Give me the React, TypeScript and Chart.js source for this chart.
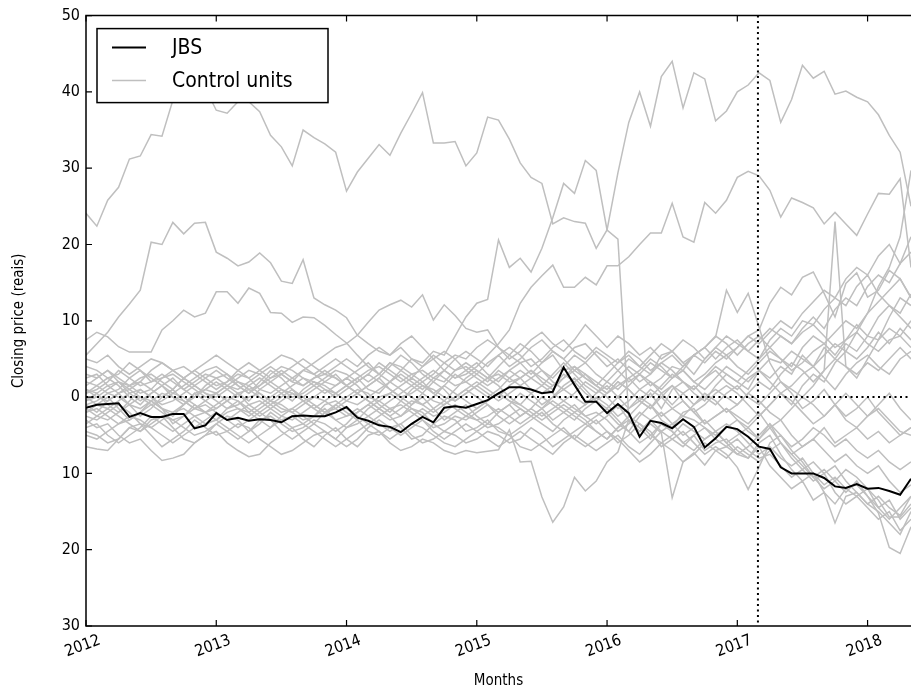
import React, { useEffect, useRef } from "react";
import { Chart, registerables } from "chart.js";

Chart.register(...registerables);

const FONT = "'DejaVu Sans Condensed', 'DejaVu Sans', sans-serif";

const START_YEAR = 2012;
const N_MONTHS = 77;
const YEAR_TICKS = [2012, 2013, 2014, 2015, 2016, 2017, 2018];
const Y_TICKS = [-30, -20, -10, 0, 10, 20, 30, 40, 50];
const INTERVENTION_MONTH = 61.9;
const SERIES_NAMES = ["JBS", "Control units"];

const JBS = [
  -1.4, -1.0, -0.9, -0.8, -2.6, -2.1, -2.6, -2.6, -2.2, -2.2, -4.1, -3.7,
  -2.1, -3.0, -2.7, -3.1, -2.9, -3.0, -3.3, -2.5, -2.4, -2.5, -2.5, -2.0,
  -1.3, -2.7, -3.1, -3.7, -3.9, -4.6, -3.5, -2.6, -3.3, -1.4, -1.2, -1.4,
  -0.9, -0.4, 0.5, 1.3, 1.3, 1.0, 0.5, 0.7, 3.9, 1.6, -0.6, -0.6,
  -2.1, -0.9, -2.1, -5.2, -3.1, -3.4, -4.1, -2.9, -3.9, -6.6, -5.4, -3.9,
  -4.2, -5.2, -6.5, -6.8, -9.2, -10.0, -10.0, -10.0, -10.6, -11.7, -11.9, -11.4,
  -12.0, -11.9, -12.3, -12.8, -10.7,
];

const CONTROL_A = [
  24.1, 22.4, 25.8, 27.5, 31.2, 31.6, 34.4, 34.2, 38.9, 41.5, 42.5, 40.5,
  37.6, 37.2, 38.7, 38.7, 37.4, 34.3, 32.8, 30.3, 35.0, 34.0, 33.2, 32.1,
  27.0, 29.5, 31.3, 33.1, 31.7, 34.6, 37.2, 39.9, 33.3, 33.3, 33.5, 30.3,
  32.0, 36.7, 36.3, 33.8, 30.7, 28.8, 28.0, 22.7, 23.5, 23.0, 22.8, 19.5,
  21.9, 29.4, 36.0, 40.0, 35.5, 42.0, 44.0, 37.9, 42.5, 41.7, 36.2, 37.5,
  40.0, 40.9, 42.5, 41.5, 36.0, 39.0, 43.5, 41.8, 42.7, 39.7, 40.1, 39.3,
  38.7, 37.0, 34.3, 32.1, 25.0,
];
const CONTROL_B = [
  1.0, 0.5, 1.5, 2.0, 0.5, -0.5, 0.5, 1.5, 0.0, -1.0, 0.5, 1.0,
  2.0, 1.0, 0.0, 1.5, 2.5, 1.5, 0.5, -0.5, 1.0, 2.0, 1.5, 0.5,
  1.5, 2.5, 1.0, 0.5, 2.0, 3.0, 2.0, 1.0, 2.5, 3.5, 2.5, 3.0,
  4.0, 5.5, 7.0, 8.8, 12.3, 14.4, 15.9, 17.3, 14.4, 14.4, 15.7, 14.7,
  17.2, 17.2, 18.4, 20.0, 21.5, 21.5, 25.4, 21.0, 20.3, 25.5, 24.1, 25.8,
  28.8, 29.6, 29.0, 27.1, 23.6, 26.1, 25.5, 24.8, 22.7, 24.2, 22.7, 21.2,
  24.0, 26.7, 26.6, 28.6, 17.0,
];
const CONTROL_C = [
  3.0, 2.5, 3.5, 2.0, 1.5, 2.5, 3.0, 2.0, 1.0, 2.5, 3.5, 2.5,
  1.5, 2.0, 3.0, 2.5, 1.0, 0.5, 1.5, 2.5, 3.5, 3.0, 2.0, 1.5,
  2.5, 3.5, 4.5, 3.0, 2.0, 3.5, 5.0, 4.5, 6.0, 5.5, 8.0, 10.5,
  12.3, 12.8, 20.6, 17.0, 18.2, 16.4, 19.5, 23.5, 28.0, 26.7, 31.0, 29.7,
  21.9, 20.7, -2.5, -1.0, 0.5, -1.5, 1.0, 2.0, 0.5, -0.5, 1.5, 3.0,
  2.0, 1.0, 3.5, 2.5, 4.0, 3.0, 5.5, 4.0, 6.5, 5.0, 7.0, 6.0,
  8.0, 7.5, 9.0, 8.0, 10.0,
];
const CONTROL_D = [
  5.5, 7.0, 8.5, 10.5, 12.2, 14.0, 20.3, 20.0, 22.9, 21.4, 22.8, 22.9,
  19.0, 18.2, 17.2, 17.7, 18.9, 17.6, 15.2, 14.9, 18.0, 13.0, 12.1, 11.4,
  10.4, 8.1, 7.0, 6.0, 5.5, 6.5, 5.0, 4.0, 5.5, 4.5, 3.5, 4.0,
  3.0, 2.0, 3.5, 2.5, 1.5, 2.5, 3.5, 2.0, 1.0, 2.0, 3.0, 1.5,
  0.5, 1.5, 2.5, 1.0, 0.0, 1.5, 3.0, 2.0, 1.0, 2.5, 3.5, 2.0,
  1.0, 2.5, 3.5, 2.0, 0.5, 1.5, 3.0, 4.0, 2.5, 1.0, 3.0, 4.5,
  5.5, 4.0, 3.0, 5.0, 6.0,
];
const CONTROL_E = [
  7.5, 8.5, 7.9, 6.6, 5.9, 5.9, 5.9, 8.8, 10.0, 11.4, 10.5, 11.0,
  13.8, 13.8, 12.3, 14.3, 13.6, 11.1, 11.0, 9.8, 10.5, 10.4, 9.4, 8.2,
  7.1, 5.5, 4.0, 3.0, 4.5, 3.5, 2.5, 4.0, 5.0, 3.5, 2.5, 3.5,
  4.5, 3.0, 2.0, 3.5, 4.5, 5.0, 3.5, 2.5, 4.0, 5.5, 4.5, 3.0,
  2.0, 1.0, 2.5, 3.5, 5.0, 4.0, 2.5, 3.5, 5.5, 4.5, 6.0, 5.0,
  6.5, 8.0, 8.8, 12.3, 14.4, 13.4, 15.7, 16.4, 13.6, 10.5, 14.9, 16.3,
  13.1, 14.0, 16.6, 15.5, 13.1,
];
const CONTROL_F = [
  -1.0, -2.0, -0.5, 0.5, -1.0, -2.5, -1.5, 0.0, 1.0, -0.5, -1.5, -0.5,
  0.5, 1.5, 0.5, -0.5, 1.0, 2.0, 3.0, 2.0, 3.5, 4.5, 5.5, 6.5,
  7.0, 8.1, 9.8, 11.4, 12.1, 12.7, 11.8, 13.4, 10.1, 12.1, 10.7, 9.0,
  8.5, 8.8, 6.5, 5.5, 7.0, 6.0, 4.5, 5.5, 3.5, 4.0, 2.5, 1.5,
  0.5, 2.0, 1.0, -0.5, -1.5, 0.5, 1.5, -0.5, -2.0, -1.0, 0.5, 1.5,
  0.5, -1.0, -2.5, -1.0, 0.5, -0.5, -2.0, -3.5, -2.5, -1.0, -3.0, -4.0,
  -2.5, -1.5, -3.0, -4.5, -5.0,
];
const CONTROL_G = [
  -3.0, -4.0, -3.5, -5.0, -6.0, -5.5, -7.0, -8.3, -8.0, -7.5, -6.0, -5.0,
  -4.5, -6.0, -7.0, -7.8, -7.5, -6.0, -5.0, -4.0, -5.5, -6.5, -5.0, -4.0,
  -5.5, -6.5, -5.0, -4.5, -6.0, -7.0, -6.5, -5.5, -6.0, -7.0, -7.5, -7.0,
  -7.3, -7.1, -6.9, -4.3, -8.5, -8.4, -13.1, -16.4, -14.4, -10.5, -12.3, -11.0,
  -8.5, -7.2, -3.0, -4.0, -5.5, -3.5, -4.5, -6.0, -5.0, -7.0, -6.0, -5.5,
  -7.0, -8.0, -6.5, -9.0, -10.5, -12.0, -11.0, -13.5, -12.5, -16.5, -13.0, -12.5,
  -14.0, -13.0, -14.5, -15.5, -13.0,
];
const CONTROL_H = [
  -4.5, -5.0, -6.0, -5.5, -4.0, -3.5, -5.0, -6.5, -5.5, -4.5, -3.0, -4.0,
  -5.0, -4.5, -3.5, -4.0, -5.5, -6.5, -7.5, -7.0, -6.0, -5.0, -4.5, -5.5,
  -4.0, -3.0, -4.5, -5.0, -4.0, -3.5, -5.0, -6.0, -5.5, -4.5, -5.0, -6.0,
  -5.5, -4.5, -5.0, -6.0, -5.5, -4.0, -5.0, -6.5, -5.5, -4.5, -3.5, -4.5,
  -5.5, -4.0, -3.0, -4.5, -3.5, -4.7, -13.2, -8.5, -7.3, -8.9, -7.0, -6.5,
  -7.5, -8.0, -6.0, -5.0, -7.5, -9.5, -11.0, -10.0, -12.5, -14.0, -12.0, -11.5,
  -13.0, -15.2, -19.7, -20.5, -17.0,
];
const CONTROL_I = [
  -6.5, -6.8, -7.0, -5.5, -4.0, -4.5, -3.0, -2.5, -4.0, -5.5, -6.0, -5.0,
  -3.5, -2.5, -3.0, -4.5, -3.5, -2.0, -3.0, -4.0, -3.5, -2.5, -1.5, -3.0,
  -4.0, -3.5, -2.5, -1.5, -2.5, -4.0, -5.5, -5.0, -3.5, -2.5, -3.0, -4.5,
  -4.0, -3.0, -4.5, -5.0, -4.0, -3.0, -2.0, -3.5, -4.5, -5.5, -4.0, -3.0,
  -4.5, -6.0, -5.0, -3.5, -4.5, -6.5, -5.5, -4.5, -6.0, -7.5, -6.5, -7.5,
  -9.2, -12.1, -9.2, -6.0, -5.0, -7.0, -8.5, -10.5, -12.0, -11.0, -9.5, -10.5,
  -12.0, -13.5, -15.7, -15.7, -14.0,
];
const CONTROL_J = [
  0.5, 1.5, 2.5, 1.5, 0.0, -1.0, 0.5, 1.5, 2.5, 1.0, 0.0, 1.5,
  2.5, 3.0, 1.5, 0.5, 2.0, 3.5, 2.5, 1.0, 0.0, 1.0, 2.0, 3.0,
  1.5, 0.5, 1.5, 2.5, 1.0, 0.0, -1.0, 0.5, 2.0, 1.0, -0.5, 0.5,
  1.5, 2.5, 1.5, 0.0, -1.0, 0.5, 1.5, 0.5, -0.5, 0.5, 2.0, 1.0,
  0.0, -1.5, -0.5, 1.0, 2.0, 0.5, -1.0, 0.5, 1.5, 0.0, -1.0, 0.5,
  1.5, 0.0, -1.0, 0.5, 2.0, 1.0, 0.0, 1.5, 3.5, 23.0, 4.0, 2.5,
  5.0, 7.5, 10.5, 13.0, 12.0,
];
const CONTROL_K = [
  -0.5, 0.5, -1.0, -2.0, -0.5, 1.0, 0.0, -1.5, -2.5, -1.0, 0.5, -0.5,
  -1.5, -0.5, 0.5, -1.0, -2.0, -1.0, 0.0, 1.0, -0.5, -1.5, -2.5, -1.0,
  0.0, 1.0, 0.5, -1.0, -2.0, -0.5, 1.0, 2.0, 0.5, -0.5, 1.0, 2.5,
  3.5, 2.5, 4.0, 5.5, 4.5, 3.0, 4.5, 6.0, 5.0, 3.5, 4.5, 6.0,
  5.0, 3.5, 2.0, 3.0, 4.5, 3.5, 2.5, 4.0, 5.5, 6.5, 7.9, 14.0,
  11.1, 13.6, 9.2, 4.5, 2.0, 0.5, -1.5, -0.5, 1.0, -1.0, -2.5, -1.5,
  0.0, -2.0, -3.5, -5.0, -4.0,
];
const CONTROL_L = [
  -2.0, -1.0, 0.0, -1.5, -3.0, -2.0, -0.5, -1.5, -3.5, -2.5, -1.0, -2.0,
  -3.0, -1.5, -0.5, -2.0, -3.0, -4.0, -2.5, -1.5, -2.5, -3.5, -2.0, -1.0,
  -2.0, -3.0, -1.5, -0.5, -1.5, -2.5, -1.0, 0.0, -1.5, -3.0, -2.0, -1.0,
  -2.5, -3.5, -2.0, -1.0, -2.5, -1.5, 0.0, -1.0, -2.0, -3.0, -1.5, -0.5,
  -2.0, -3.5, -4.5, -2.5, -1.0, -3.0, -4.0, -2.0, -1.5, -3.5, -2.5, -1.5,
  -3.0, -4.0, -2.5, -1.0, 0.5, -1.0, 1.5, 3.0, 2.0, 4.5, 6.0, 8.5,
  11.0, 14.5, 17.0, 21.0, 29.7,
];
const CONTROL_M = [
  4.0, 3.5, 2.5, 3.0, 4.5, 3.5, 2.0, 2.5, 3.5, 4.0, 3.0, 2.0,
  1.0, 2.0, 3.5, 4.5, 3.5, 2.5, 3.0, 4.0, 5.0, 4.0, 3.0, 2.5,
  1.5, 0.5, 1.5, 2.5, 4.0, 5.5, 4.5, 3.0, 2.0, 3.5, 5.0, 6.0,
  5.0, 4.0, 5.5, 6.5, 5.5, 4.0, 5.0, 6.5, 7.5, 6.0, 5.0, 6.5,
  5.5, 4.5, 6.0, 5.0, 3.5, 4.5, 5.5, 4.0, 5.5, 6.5, 5.0, 6.5,
  7.5, 6.0, 5.0, 6.5, 8.0, 7.0, 9.0, 10.5, 9.0, 11.5, 13.0, 12.0,
  14.5, 16.0, 15.0, 17.5, 19.0,
];
const CONTROL_N = [
  -2.5, -3.0, -2.0, -1.0, -2.0, -3.5, -4.0, -3.0, -2.0, -1.5, -2.5, -3.5,
  -3.0, -2.0, -1.5, -2.5, -1.5, -0.5, -1.0, -2.0, -3.0, -2.5, -1.0, -0.5,
  -1.5, -2.5, -3.5, -2.5, -1.5, -1.0, -2.0, -3.0, -4.0, -3.5, -2.5, -3.0,
  -2.0, -1.0, -2.5, -3.5, -2.5, -1.5, -2.5, -1.5, -0.5, -1.5, -2.5, -2.0,
  -3.0, -4.5, -3.5, -2.0, -3.0, -4.5, -3.5, -2.5, -3.0, -4.0, -5.0, -4.0,
  -3.0, -4.5, -5.5, -4.0, -6.0, -7.5, -6.5, -5.5, -7.0, -8.5, -7.5, -9.0,
  -10.0, -9.0, -11.0, -12.5, -11.5,
];
const CONTROL_O = [
  1.5, 2.5, 3.5, 2.5, 1.5, 0.5, 1.0, 2.5, 3.0, 2.0, 1.0, 0.0,
  0.5, 1.5, 2.5, 3.5, 3.0, 2.0, 1.0, 0.0, 0.5, 1.5, 2.5, 3.5,
  3.0, 2.0, 3.0, 4.5, 3.5, 2.5, 1.5, 2.5, 3.5, 2.5, 1.5, 2.0,
  3.0, 4.5, 5.5, 4.0, 5.0, 6.5, 7.5, 6.0, 5.0, 6.5, 7.0, 5.5,
  4.0, 5.0, 3.5, 2.0, 3.0, 4.5, 3.5, 2.0, 1.0, 2.5, 4.0, 3.0,
  2.0, 3.5, 5.0, 7.5, 9.0, 8.0, 10.0, 9.5, 11.5, 13.0, 12.0, 14.5,
  16.0, 13.5, 12.0, 10.5, 9.0,
];
const CONTROL_P = [
  -1.0, -0.5, 0.5, 0.0, -1.0, -1.5, -0.5, 0.5, 0.0, -0.5, -1.5, -2.0,
  -1.0, 0.0, -0.5, -1.5, -2.5, -1.5, -0.5, 0.5, 0.0, -1.0, -2.0, -1.5,
  -0.5, 0.5, -0.5, -1.5, -0.5, 0.5, 1.5, 0.5, -0.5, -1.0, 0.0, 1.0,
  0.0, -1.0, -2.0, -1.0, 0.5, -0.5, -1.5, -3.0, -2.0, -1.0, -2.5, -3.5,
  -2.5, -1.0, -3.0, -4.5, -3.0, -2.0, -3.5, -5.0, -4.0, -3.0, -4.5, -6.0,
  -5.0, -4.0, -5.5, -3.5, -6.0, -8.0, -9.5, -8.5, -10.0, -9.0, -11.0, -12.5,
  -14.0, -15.0, -16.5, -18.0, -15.0,
];
const CONTROL_Q = [
  2.0, 1.5, 0.5, 1.0, 2.5, 3.5, 2.5, 1.5, 0.5, 1.5, 2.5, 3.5,
  4.0, 3.0, 2.0, 1.0, 1.5, 3.0, 4.0, 3.5, 2.5, 1.5, 0.5, 1.5,
  2.5, 1.5, 0.0, -0.5, 0.5, 1.5, 2.5, 1.5, 0.5, 1.5, 3.0, 2.0,
  1.0, 0.0, 1.0, 2.5, 3.5, 2.5, 1.5, 3.0, 4.5, 3.0, 1.5, 0.5,
  2.0, 3.5, 5.0, 4.0, 3.0, 5.5, 6.0, 4.5, 3.0, 5.0, 6.5, 5.5,
  4.0, 3.0, 4.5, 6.0, 5.0, 4.0, 6.5, 8.0, 7.0, 5.5, 7.5, 9.5,
  8.0, 10.5, 12.0, 11.0, 13.5,
];
const CONTROL_R = [
  -3.5, -2.5, -1.5, -2.5, -3.5, -4.5, -3.5, -2.5, -3.0, -4.0, -5.0, -4.5,
  -3.5, -4.5, -5.5, -4.5, -3.0, -2.5, -3.5, -4.5, -4.0, -3.0, -3.5, -4.5,
  -3.5, -2.0, -1.0, -2.0, -3.0, -2.5, -1.5, -2.0, -3.5, -4.5, -3.5, -2.5,
  -3.0, -4.0, -3.5, -2.5, -1.5, -2.5, -3.5, -4.5, -3.0, -2.0, -3.0, -4.5,
  -5.5, -4.0, -2.5, -3.5, -5.0, -6.0, -5.0, -3.5, -4.5, -5.5, -4.5, -3.5,
  -4.5, -6.0, -7.5, -6.5, -8.0, -9.0, -8.0, -10.0, -11.5, -10.5, -12.0, -13.0,
  -12.0, -14.5, -13.5, -16.0, -14.5,
];
const CONTROL_S = [
  0.0, -1.0, -1.5, -0.5, 0.5, 1.0, 0.0, -1.0, -0.5, 0.5, 1.5, 0.5,
  -0.5, -1.5, -1.0, 0.0, 0.5, -0.5, -1.5, -2.0, -1.0, 0.0, 1.0, 0.5,
  -0.5, -1.0, 0.0, 1.0, 2.0, 1.0, 0.0, -1.0, 0.0, 1.5, 0.5, -0.5,
  -1.5, -0.5, 0.5, -0.5, -1.5, -2.5, -1.5, 0.0, 1.0, 0.0, -1.0, 0.5,
  1.5, 0.0, -1.5, -0.5, 1.0, 0.0, -1.5, -2.5, -1.0, 0.5, -0.5, -2.0,
  -1.0, 0.5, -0.5, -2.0, -3.0, -1.5, 0.0, -1.0, -2.5, -1.0, 0.5, -1.0,
  -2.5, -1.0, 0.5, -1.5, -3.0,
];
const CONTROL_T = [
  5.0, 4.5, 5.5, 4.0, 3.0, 4.0, 5.0, 4.5, 3.5, 2.5, 3.5, 4.5,
  5.5, 4.5, 3.5, 2.5, 3.5, 4.5, 5.5, 5.0, 4.0, 3.0, 4.0, 5.0,
  4.0, 3.0, 2.0, 3.0, 4.5, 4.0, 3.0, 2.0, 3.0, 4.5, 5.5, 5.0,
  6.5, 7.5, 6.5, 5.0, 6.0, 7.5, 8.5, 7.0, 6.0, 7.5, 9.5, 8.0,
  6.5, 8.0, 7.0, 5.5, 6.5, 5.0, 6.0, 7.5, 6.5, 5.0, 6.5, 8.0,
  7.0, 6.0, 7.5, 9.0, 8.0, 7.0, 8.5, 9.5, 8.0, 6.5, 7.5, 8.5,
  7.0, 6.0, 7.5, 8.0, 6.5,
];
const CONTROL_U = [
  -5.0, -5.5, -4.5, -3.5, -2.5, -3.0, -4.0, -5.0, -6.0, -5.0, -4.0, -3.0,
  -2.0, -3.0, -4.0, -3.0, -2.0, -3.0, -4.5, -5.5, -4.5, -3.5, -4.5, -5.5,
  -6.5, -5.5, -4.0, -3.0, -4.0, -5.0, -4.0, -3.0, -4.5, -5.5, -4.5, -3.5,
  -4.5, -5.5, -6.5, -5.5, -4.5, -5.5, -6.5, -7.5, -6.0, -5.0, -6.0, -7.0,
  -6.0, -5.0, -6.5, -7.5, -6.0, -4.5, -5.5, -6.5, -5.0, -4.0, -5.5, -6.5,
  -5.5, -7.0, -8.0, -7.5, -9.0, -10.5, -9.5, -11.0, -10.0, -12.5, -14.0, -13.0,
  -14.5, -16.0, -15.0, -17.5, -16.0,
];
const CONTROL_V = [
  1.0, 0.0, -0.5, 0.5, 1.5, 2.0, 1.0, 0.0, 1.0, 2.5, 1.5, 0.5,
  0.0, 1.0, 2.0, 1.5, 0.5, -0.5, 0.5, 1.5, 2.5, 2.0, 1.0, 0.0,
  1.0, 2.0, 3.0, 2.0, 1.0, 0.0, 0.5, 1.5, 1.0, 0.0, -0.5, 0.5,
  1.5, 0.5, -0.5, 0.5, 1.5, 0.5, -1.0, 0.0, 1.5, 2.5, 1.0, -0.5,
  -1.5, 0.0, 1.5, 3.0, 2.0, 1.0, 2.5, 3.5, 2.0, 1.0, 2.5, 4.0,
  3.0, 2.0, 3.5, 5.0, 4.5, 6.0, 5.0, 4.0, 5.5, 7.0, 6.0, 5.0,
  6.5, 8.5, 7.0, 9.0, 7.5,
];
const CONTROL_W = [
  -2.0, -1.5, -2.5, -3.5, -3.0, -2.0, -1.0, -2.0, -3.0, -2.5, -1.5, -1.0,
  -2.0, -3.0, -2.0, -1.0, -0.5, -1.5, -2.5, -3.0, -2.0, -1.0, -2.0, -3.0,
  -2.5, -1.5, -2.5, -3.5, -4.5, -3.5, -2.5, -1.5, -2.5, -2.0, -1.0, -2.0,
  -3.0, -2.5, -1.5, -2.5, -3.5, -2.5, -1.5, -0.5, -1.5, -2.5, -3.5, -2.5,
  -1.5, -3.0, -4.5, -6.0, -5.0, -3.5, -4.5, -6.0, -7.0, -5.5, -4.5, -6.0,
  -7.5, -6.5, -5.0, -3.5, -5.0, -6.5, -5.5, -4.0, -5.0, -6.5, -5.5, -7.0,
  -8.0, -7.0, -8.5, -9.5, -8.5,
];
const CONTROL_X = [
  0.5, 1.0, 2.0, 3.5, 2.5, 1.5, 2.0, 3.0, 2.0, 1.0, 2.0, 3.0,
  2.5, 1.5, 1.0, 2.0, 3.0, 4.0, 3.0, 2.0, 1.5, 2.5, 3.5, 2.5,
  1.5, 2.5, 3.5, 4.0, 3.0, 2.0, 3.0, 3.5, 2.5, 2.0, 3.5, 4.5,
  3.5, 2.5, 3.0, 2.0, 2.5, 3.5, 2.5, 1.5, 2.5, 4.0, 3.0, 2.0,
  1.0, 2.5, 4.0, 3.0, 1.5, 2.5, 4.0, 3.5, 2.0, 3.0, 4.5, 5.5,
  6.5, 8.0, 7.0, 8.5, 10.0, 9.0, 11.0, 12.5, 14.0, 13.0, 15.5, 17.0,
  16.0, 18.5, 20.0, 17.5, 21.0,
];
const CONTROL_Y = [
  -1.5, -2.5, -3.0, -2.0, -1.0, 0.0, -0.5, -1.5, -2.0, -1.0, 0.0, 1.0,
  0.5, -0.5, -1.5, -2.0, -1.0, 0.0, 1.0, 0.5, -0.5, -1.5, -0.5, 0.5,
  1.5, 0.5, -0.5, -1.5, -2.5, -1.5, -0.5, -1.0, -2.0, -1.0, 0.0, 1.0,
  2.0, 1.0, 0.0, 1.5, 2.5, 3.5, 2.0, 1.0, 2.5, 3.5, 2.5, 1.5,
  3.0, 4.5, 5.5, 4.0, 5.5, 7.0, 6.0, 4.5, 5.5, 6.5, 8.0, 7.0,
  5.5, 7.0, 8.0, 6.5, 5.0, 3.5, 4.5, 6.0, 7.0, 8.5, 10.0, 9.0,
  11.0, 12.5, 14.0, 15.5, 13.0,
];
const CONTROL_Z = [
  -4.0, -3.5, -5.0, -6.0, -5.0, -4.0, -2.5, -3.5, -4.5, -3.5, -2.5, -2.0,
  -3.0, -4.0, -5.0, -6.0, -5.0, -4.0, -3.0, -2.5, -3.5, -4.5, -5.5, -6.5,
  -5.5, -4.5, -3.5, -4.5, -5.5, -4.5, -3.5, -4.0, -5.0, -6.0, -6.5, -5.5,
  -4.5, -3.5, -4.0, -5.0, -6.5, -7.0, -6.0, -5.0, -4.0, -5.5, -6.5, -5.5,
  -4.5, -5.5, -7.0, -8.5, -7.5, -6.0, -7.0, -8.5, -7.5, -6.0, -7.0, -8.0,
  -6.5, -7.5, -8.5, -7.0, -6.0, -7.5, -9.0, -10.5, -9.5, -11.0, -12.5, -11.0,
  -13.0, -14.5, -16.0, -14.5, -13.0,
];
const CONTROL_AA = [
  2.5, 3.0, 1.5, 0.5, 1.0, 2.0, 3.5, 4.5, 3.5, 2.5, 1.5, 2.5,
  3.5, 2.5, 1.5, 0.5, 1.5, 2.5, 3.5, 2.5, 1.5, 2.5, 3.0, 4.0,
  5.0, 4.0, 5.5, 6.5, 5.5, 7.0, 8.0, 6.5, 5.0, 6.0, 5.0, 3.5,
  2.5, 1.5, 2.5, 3.5, 2.5, 1.0, 0.5, 1.5, 3.0, 2.0, 0.5, -0.5,
  0.5, 2.0, 1.0, -0.5, -1.5, 0.0, 1.5, 0.5, -1.0, 0.0, 1.0, 0.0,
  -1.0, 0.5, 2.0, 1.0, 3.0, 4.5, 3.5, 2.0, 3.5, 5.0, 4.0, 3.0,
  4.5, 3.5, 5.0, 6.5, 5.0,
];
const CONTROL_AB = [
  -0.5, 0.0, 1.0, 2.0, 1.0, 0.0, -1.0, -0.5, 0.5, 0.0, -1.0, -2.0,
  -1.5, -0.5, 0.5, 1.0, 0.0, -1.0, -2.0, -1.5, -0.5, 0.0, -0.5, -1.5,
  -2.5, -2.0, -1.0, 0.0, 0.5, -0.5, -1.5, -2.5, -1.5, -0.5, -1.5, -2.5,
  -1.5, -0.5, 0.5, -0.5, -1.0, -2.0, -3.0, -2.0, -1.0, -2.0, -1.0, 0.0,
  -1.0, -2.5, -1.5, 0.0, -1.0, -2.5, -1.5, -0.5, -2.0, -3.5, -2.5, -1.5,
  -2.5, -3.5, -2.0, -4.0, -3.0, -5.0, -6.5, -5.5, -4.0, -6.0, -5.0, -4.0,
  -5.5, -4.5, -6.0, -5.0, -4.0,
];

const CONTROLS = [
  CONTROL_A, CONTROL_B, CONTROL_C, CONTROL_D, CONTROL_E, CONTROL_F, CONTROL_G,
  CONTROL_H, CONTROL_I, CONTROL_J, CONTROL_K, CONTROL_L, CONTROL_M, CONTROL_N,
  CONTROL_O, CONTROL_P, CONTROL_Q, CONTROL_R, CONTROL_S, CONTROL_T, CONTROL_U,
  CONTROL_V, CONTROL_W, CONTROL_X, CONTROL_Y, CONTROL_Z, CONTROL_AA, CONTROL_AB,
];

const GRAY = "#bfbfbf";

const toPoints = (arr: number[]) => arr.map((v, i) => ({ x: i, y: v }));

const decorPlugin = {
  id: "decor",
  afterDatasetsDraw(chart: any) {
    const { ctx, chartArea: a, scales } = chart;
    const xs = scales.x;
    const ys = scales.y;
    ctx.save();
    // dotted reference lines
    ctx.strokeStyle = "#000";
    ctx.lineWidth = 2;
    ctx.setLineDash([2, 3.5]);
    const y0 = ys.getPixelForValue(0);
    ctx.beginPath();
    ctx.moveTo(a.left, y0);
    ctx.lineTo(a.right, y0);
    ctx.stroke();
    const xv = xs.getPixelForValue(INTERVENTION_MONTH);
    ctx.beginPath();
    ctx.moveTo(xv, a.top);
    ctx.lineTo(xv, a.bottom);
    ctx.stroke();
    ctx.setLineDash([]);

    // spines
    ctx.lineWidth = 1.5;
    ctx.beginPath();
    ctx.moveTo(a.right + 2, a.top);
    ctx.lineTo(a.left, a.top);
    ctx.lineTo(a.left, a.bottom);
    ctx.lineTo(a.right + 2, a.bottom);
    ctx.stroke();

    // inward ticks
    ctx.lineWidth = 1.2;
    const tl = 6;
    ctx.beginPath();
    YEAR_TICKS.forEach((yr) => {
      const px = xs.getPixelForValue((yr - START_YEAR) * 12);
      ctx.moveTo(px, a.bottom);
      ctx.lineTo(px, a.bottom - tl);
      ctx.moveTo(px, a.top);
      ctx.lineTo(px, a.top + tl);
    });
    Y_TICKS.forEach((v) => {
      const py = ys.getPixelForValue(v);
      ctx.moveTo(a.left, py);
      ctx.lineTo(a.left + tl, py);
    });
    ctx.stroke();

    // legend
    const lx = a.left + 11;
    const ly = a.top + 13;
    const lw = 231;
    const lh = 74;
    ctx.fillStyle = "#fff";
    ctx.fillRect(lx, ly, lw, lh);
    ctx.strokeStyle = "#000";
    ctx.lineWidth = 1.5;
    ctx.strokeRect(lx, ly, lw, lh);
    const rows = [
      { label: SERIES_NAMES[0], color: "#000", width: 2, y: ly + 19 },
      { label: SERIES_NAMES[1], color: GRAY, width: 1.5, y: ly + 52 },
    ];
    ctx.font = `21px ${FONT}`;
    ctx.textBaseline = "middle";
    ctx.textAlign = "left";
    rows.forEach((r) => {
      ctx.strokeStyle = r.color;
      ctx.lineWidth = r.width;
      ctx.beginPath();
      ctx.moveTo(lx + 15, r.y);
      ctx.lineTo(lx + 49, r.y);
      ctx.stroke();
      ctx.fillStyle = "#000";
      ctx.fillText(r.label, lx + 75, r.y + 1);
    });
    ctx.restore();
  },
};

export default function App() {
  const ref = useRef<HTMLCanvasElement | null>(null);

  useEffect(() => {
    if (!ref.current) return;
    const datasets: any[] = [
      {
        label: SERIES_NAMES[0],
        data: toPoints(JBS),
        borderColor: "#000",
        borderWidth: 2,
        pointRadius: 0,
        tension: 0,
        order: 0,
      },
      ...CONTROLS.map((arr, k) => ({
        label: `${SERIES_NAMES[1]} ${k + 1}`,
        data: toPoints(arr),
        borderColor: GRAY,
        borderWidth: 1.5,
        pointRadius: 0,
        tension: 0,
        order: 1,
      })),
    ];

    const chart = new Chart(ref.current, {
      type: "line",
      data: { datasets },
      plugins: [decorPlugin],
      options: {
        animation: false,
        responsive: false,
        devicePixelRatio: 1,
        layout: { padding: { top: 15, right: 0, bottom: 0, left: 0 } },
        plugins: { legend: { display: false }, tooltip: { enabled: false } },
        scales: {
          x: {
            type: "linear",
            min: 0,
            max: N_MONTHS - 1,
            afterBuildTicks: (scale: any) => {
              scale.ticks = YEAR_TICKS.map((yr) => ({ value: (yr - START_YEAR) * 12 }));
            },
            afterFit: (scale: any) => {
              scale.height = 68;
            },
            grid: { display: false, drawTicks: false },
            border: { display: false },
            ticks: {
              autoSkip: false,
              minRotation: 20,
              maxRotation: 20,
              labelOffset: 14,
              padding: 5,
              color: "#000",
              font: { family: FONT, size: 16 },
              callback: (v: any) => String(START_YEAR + Math.round(Number(v) / 12)),
            },
            title: {
              display: true,
              text: "Months",
              color: "#000",
              font: { family: FONT, size: 15 },
              padding: { top: 0, bottom: 4 },
            },
          },
          y: {
            type: "linear",
            min: -30,
            max: 50,
            afterBuildTicks: (scale: any) => {
              scale.ticks = Y_TICKS.map((v) => ({ value: v }));
            },
            afterFit: (scale: any) => {
              scale.width = 86;
            },
            grid: { display: false, drawTicks: false },
            border: { display: false },
            ticks: {
              padding: 6,
              color: "#000",
              font: { family: FONT, size: 16 },
              callback: (v: any) => String(Math.abs(Number(v))),
            },
            title: {
              display: true,
              text: "Closing price (reais)",
              color: "#000",
              font: { family: FONT, size: 15 },
              padding: { top: 10, bottom: 0 },
            },
          },
        },
      },
    });
    return () => chart.destroy();
  }, []);

  return (
    <div style={{ position: "absolute", left: 0, top: 0, width: 911, height: 694, background: "#fff" }}>
      <canvas ref={ref} width={911} height={694} style={{ display: "block" }} />
    </div>
  );
}
